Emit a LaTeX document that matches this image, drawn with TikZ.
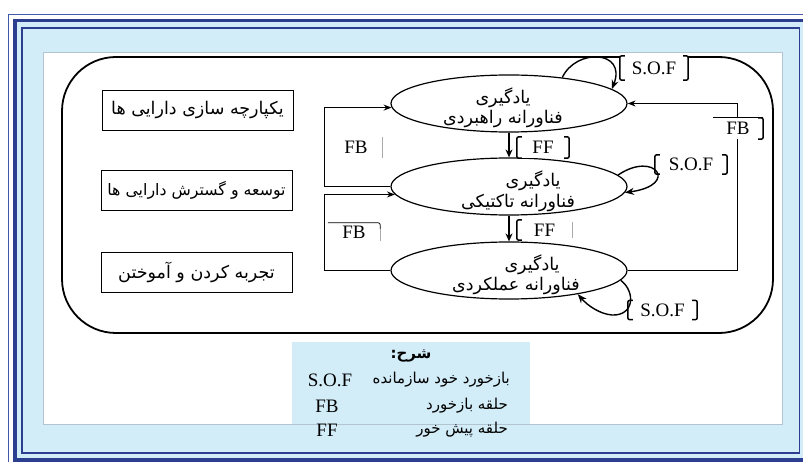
\documentclass[tikz,border=0pt]{standalone}
\usepackage{fontspec}
\setmainfont{Liberation Serif}
\newfontfamily\fafont[Script=Arabic]{DejaVu Sans}
\TeXXeTstate=1
\usetikzlibrary{arrows.meta,shapes.geometric}
\definecolor{fdark}{RGB}{44,62,143}
\definecolor{fmid}{RGB}{66,88,168}
\definecolor{flight}{RGB}{210,237,248}
\definecolor{pgray}{RGB}{178,196,208}
\definecolor{tickgray}{RGB}{170,170,170}
\newcommand{\fatxt}[1]{\beginR #1\endR}
\newcommand{\lbrk}[1]{\draw[brk] ([xshift=5pt]#1.north west) -- (#1.north west) -- (#1.south west) -- ([xshift=5pt]#1.south west);}
\newcommand{\rbrk}[1]{\draw[brk] ([xshift=-5pt]#1.north east) -- (#1.north east) -- (#1.south east) -- ([xshift=-5pt]#1.south east);}
\begin{document}
\begin{tikzpicture}[x=1pt,y=-1pt,
  ell/.style={ellipse,draw,line width=1.2pt,minimum width=236pt,minimum height=57pt,inner sep=0pt},
  etext/.style={inner sep=0pt,font=\fafont\fontsize{17.5}{19}\selectfont},
  abox/.style={draw,line width=0.9pt,minimum width=191pt,minimum height=40pt,inner sep=0pt,font=\fafont\fontsize{17.5}{19}\selectfont},
  fbarrow/.style={line width=1.3pt,-{Stealth[length=8pt,width=6pt]}},
  ffarrow/.style={line width=2pt,-{Stealth[length=8pt,width=7pt]}},
  sofarrow/.style={line width=1.4pt,-{Stealth[length=9pt,width=7pt]}},
  lab/.style={fill=white,inner sep=0pt,font=\fontsize{19}{21}\selectfont},
  brk/.style={line width=1.5pt,rounded corners=2pt},
  tick/.style={tickgray,line width=0.6pt},
  legfa/.style={inner sep=0pt,anchor=east,font=\fafont\fontsize{15}{17}\selectfont},
  legen/.style={inner sep=0pt,font=\fontsize{19}{21}\selectfont}
]
\useasboundingbox (0,0) rectangle (803,462);
% frame
\begin{scope}
\clip (0,0) rectangle (803,462);
\fill[white] (0,0) rectangle (803,462);
\draw[fmid,line width=1pt] (8.5,14.5) rectangle (830,490);
\draw[fdark,line width=3.5pt,fill=flight] (14.75,20.75) rectangle (830,459.75);
\draw[fdark,line width=1.6pt] (22,28) rectangle (799.5,453);
\draw[pgray,line width=0.6pt,fill=white] (43,52) rectangle (782,424);
\end{scope}
% big rounded outline
\draw[line width=1.8pt,rounded corners=54pt] (62,57) rectangle (773,333);
% left boxes
\node[abox] (B1) at (197.5,110) {\fatxt{یکپارچه سازی دارایی ها}};
\node[abox,font=\fafont\fontsize{15.8}{18}\selectfont] (B2) at (196.5,190) {\fatxt{توسعه و گسترش دارایی ها}};
\node[abox] (B3) at (196.5,272) {\fatxt{تجربه کردن و آموختن}};
% ellipses
\node[ell] (E1) at (509,103.5) {};
\node[ell] (E2) at (509,186.5) {};
\node[ell] (E3) at (509,270.5) {};
\node[etext] (T1a) at (503,98) {\fatxt{یادگیری}};
\node[etext] (T1b) at (503,119) {\fatxt{فناورانه راهبردی}};
\node[etext] (T2a) at (533,181) {\fatxt{یادگیری}};
\node[etext] (T2b) at (518,203) {\fatxt{فناورانه تاکتیکی}};
\node[etext] (T3a) at (532,265) {\fatxt{یادگیری}};
\node[etext] (T3b) at (516,286) {\fatxt{فناورانه عملکردی}};
% feedback loops
\draw[fbarrow] (E2.west) -- ++(-66,0) |- (E1.182);
\draw[fbarrow] (E3.west) -- ++(-66,0) |- (E2.184);
\draw[fbarrow] (E3.east) -- ++(110,0) |- (E1.east);
% feed forward
\draw[ffarrow] (E1.south) -- (E2.north);
\draw[ffarrow] (E2.south) -- (E3.north);
% labels
\node[lab,minimum width=68pt,minimum height=24pt] (S1) at (654,68) {S.O.F};
\lbrk{S1}\rbrk{S1}
\node[lab,minimum width=72pt,minimum height=19pt] (S2) at (691,164.5) {S.O.F};
\lbrk{S2}\rbrk{S2}
\node[lab,minimum width=69pt,minimum height=19pt] (S3) at (662.5,310) {S.O.F};
\lbrk{S3}\rbrk{S3}
\node[lab,minimum width=52pt,minimum height=21pt] (F1) at (543,147.5) {FF};
\lbrk{F1}\rbrk{F1}
\node[lab,minimum width=55pt,minimum height=20pt] (F2) at (544.5,230) {FF};
\lbrk{F2}
\draw[tick] ([yshift=-2pt]F2.north east) -- ([yshift=2pt]F2.south east);
\node[lab,minimum width=52pt,minimum height=21pt] (FB1) at (356,147.5) {FB};
\draw[tick] (FB1.north east) -- (FB1.south east);
\node[lab,minimum width=52pt,minimum height=18pt] (FB2) at (354,232) {FB};
\draw[line width=0.7pt,rounded corners=2pt] (FB2.north west) -- (FB2.north east) -- ([yshift=-6pt]FB2.north east);
\draw[tick] ([yshift=-6pt]FB2.north east) -- (FB2.south east);
\node[lab,minimum width=50pt,minimum height=21pt] (FB3) at (738,128.5) {FB};
\draw[line width=0.6pt] (FB3.north west) -- (FB3.north east);
\rbrk{FB3}
% self-organising feedback loops
\draw[sofarrow] (E1.26) .. controls (576,48) and (627,50) .. (E1.8);
\draw[sofarrow] (E2.6) .. controls (655,150) and (680,185) .. (E2.357);
\draw[sofarrow] (E3.355) .. controls (636,292) and (634,316) .. (612,315) .. controls (600,314) and (588,306) .. (E3.341);
% legend
\fill[flight] (292,342) rectangle (530,424);
\node[inner sep=0pt,font=\fafont\bfseries\fontsize{15}{17}\selectfont] (LT) at (411,356) {\fatxt{شرح:}};
\node[legen] (LS) at (330,380) {S.O.F};
\node[legfa] (LS2) at (510,380) {\fatxt{بازخورد خود سازمانده}};
\node[legen] (LB) at (327,406) {FB};
\node[legfa] (LB2) at (508,406) {\fatxt{حلقه بازخورد}};
\node[legen] (LF) at (327,430) {FF};
\node[legfa] (LF2) at (508,430) {\fatxt{حلقه پیش خور}};
\end{tikzpicture}
\end{document}
